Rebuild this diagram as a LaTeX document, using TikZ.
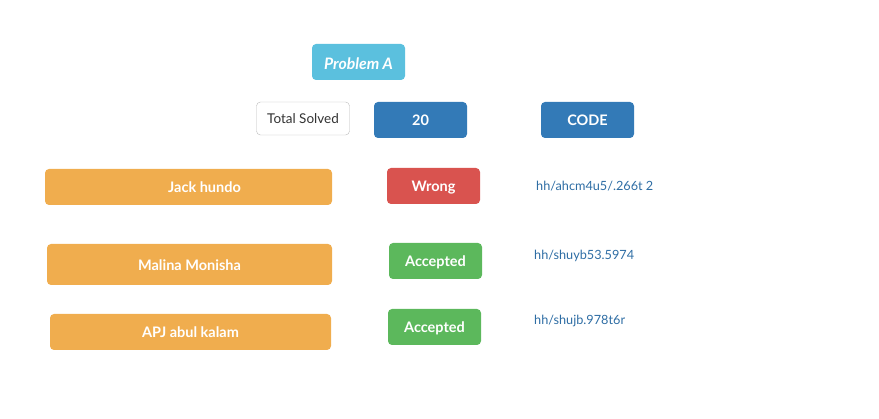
\documentclass[tikz,border=0pt]{standalone}
\usepackage{fontspec}
\setmainfont{Lato}
\definecolor{infoc}{HTML}{5BC0DE}
\definecolor{primc}{HTML}{337AB7}
\definecolor{linkc}{HTML}{2E6DA4}
\definecolor{warnc}{HTML}{F0AD4E}
\definecolor{dangc}{HTML}{D9534F}
\definecolor{succc}{HTML}{5CB85C}
\definecolor{bordc}{HTML}{BBBBBB}
\definecolor{textc}{HTML}{333333}
\begin{document}
\begin{tikzpicture}[x=1pt,y=-1pt,
  btn/.style={rounded corners=4pt, inner sep=0pt, text=white, font=\fontsize{14.5}{16}\selectfont\bfseries, minimum height=36pt, text height=12pt, text depth=0pt},
  smallbtn/.style={btn, minimum width=93pt},
  linkt/.style={anchor=base west, inner sep=0pt, text=linkc, font=\fontsize{12.7}{15}\selectfont}]
\useasboundingbox (0,0) rectangle (879,419);
\node[smallbtn, fill=infoc, text height=15pt, font=\fontsize{15.8}{17}\selectfont\bfseries\itshape] (prob) at (358.5,62) {Problem A};
\node[smallbtn, draw=bordc, fill=white, text=textc, minimum width=93pt, minimum height=33pt, text height=10.6pt, font=\fontsize{13.5}{15}\selectfont] (total) at (303,118.5) {Total Solved};
\node[smallbtn, fill=primc] (twenty) at (420.5,120) {20};
\node[smallbtn, fill=primc] (code) at (587.5,120) {CODE};
\node[btn, fill=warnc, minimum width=287pt] (jack) at (188.5,187) {\hspace*{32pt}Jack hundo};
\node[smallbtn, fill=dangc] (wrong) at (433.5,186) {Wrong};
\node[linkt] (l1) at (536,191) {hh/ahcm4u5/.266t 2};
\node[btn, fill=warnc, minimum width=285pt, minimum height=41pt] (malina) at (189.5,264.5) {Malina Monisha};
\node[smallbtn, fill=succc] (acc1) at (435.5,261) {Accepted};
\node[linkt] (l2) at (534,260) {hh/shuyb53.5974};
\node[btn, fill=warnc, minimum width=281pt] (apj) at (190.5,332) {APJ abul kalam};
\node[smallbtn, fill=succc] (acc2) at (434.5,327) {Accepted};
\node[linkt] (l3) at (534,325) {hh/shujb.978t6r};
\end{tikzpicture}
\end{document}
